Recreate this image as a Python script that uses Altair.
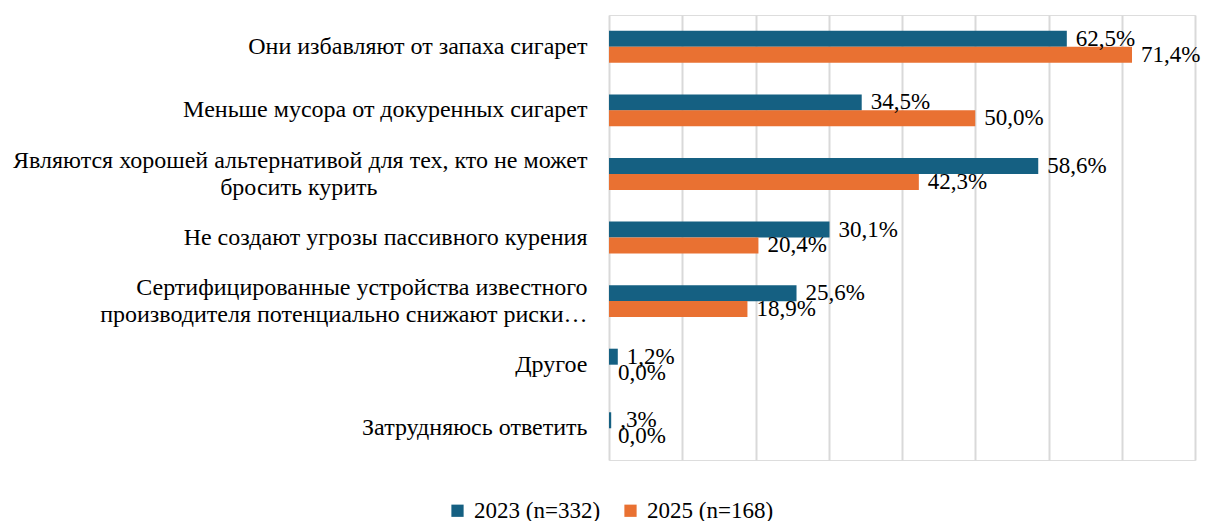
import altair as alt
import pandas as pd

categories = [
    "Они избавляют от запаха сигарет",
    "Меньше мусора от докуренных сигарет",
    "Являются хорошей альтернативой для тех, кто не может|бросить курить" + "\u00a0" * 35 + "\u200b",
    "Не создают угрозы пассивного курения",
    "Сертифицированные устройства известного|производителя потенциально снижают риски…",
    "Другое",
    "Затрудняюсь ответить",
]
series = ["2023 (n=332)", "2025 (n=168)"]
values_2023 = [62.5, 34.5, 58.6, 30.1, 25.6, 1.2, 0.3]
values_2025 = [71.4, 50.0, 42.3, 20.4, 18.9, 0.0, 0.0]
labels_2023 = ["62,5%", "34,5%", "58,6%", "30,1%", "25,6%", "1,2%", ",3%"]
labels_2025 = ["71,4%", "50,0%", "42,3%", "20,4%", "18,9%", "0,0%", "0,0%"]
colors = ["#156082", "#E97132"]
grid_ticks = [0, 10, 20, 30, 40, 50, 60, 70, 80]

rows = []
for i, c in enumerate(categories):
    rows.append({"cat": c, "series": series[0], "value": values_2023[i], "label": labels_2023[i]})
    rows.append({"cat": c, "series": series[1], "value": values_2025[i], "label": labels_2025[i]})
df = pd.DataFrame(rows)

FONT = "Liberation Serif"

y_enc = alt.Y(
    "cat:N",
    sort=categories,
    title=None,
    scale=alt.Scale(paddingInner=0.5, paddingOuter=0.25),
    axis=alt.Axis(
        domain=False, ticks=False, grid=False,
        labelFont=FONT, labelFontSize=24, labelColor="#000000",
        labelPadding=22, labelLimit=900, labelLineHeight=27,
        labelExpr="split(datum.label, '|')",
        labelOffset={"condition": {"test": "indexof(datum.value, '|') >= 0", "value": -13}, "value": 0},
    ),
)
x_enc = alt.X(
    "value:Q",
    title=None,
    scale=alt.Scale(domain=[0, 80], nice=False),
    axis=alt.Axis(
        values=grid_ticks, labels=False, ticks=False, domain=False,
        grid=True, gridColor="#d9d9d9", gridWidth=2,
    ),
)
color_enc = alt.Color(
    "series:N",
    scale=alt.Scale(domain=series, range=colors),
    legend=alt.Legend(
        title=None, orient="none", legendX=-163, legendY=484,
        direction="horizontal", symbolType="square", symbolSize=150,
        symbolStrokeWidth=0, labelFont=FONT, labelFontSize=23,
        labelColor="#000000", columnPadding=18, labelOffset=5, padding=0,
    ),
)

bars = alt.Chart(df).mark_bar(size=16).encode(
    x=x_enc,
    y=y_enc,
    yOffset=alt.YOffset("series:N", sort=series),
    color=color_enc,
)

text = alt.Chart(df).mark_text(
    align="left", baseline="middle", dx=9, font=FONT, fontSize=23, color="#000000"
).encode(
    x=alt.X("value:Q"),
    y=alt.Y("cat:N", sort=categories),
    yOffset=alt.YOffset("series:N", sort=series),
    text="label:N",
)

chart = alt.layer(bars, text).properties(
    width=586,
    height=445,
    autosize=alt.AutoSizeParams(type="none"),
    padding={"left": 601, "top": 7, "right": 9, "bottom": 64},
).configure_view(stroke=None).configure(background="#ffffff")

chart.save("out.html", embed_options={"renderer": "svg", "actions": False})
